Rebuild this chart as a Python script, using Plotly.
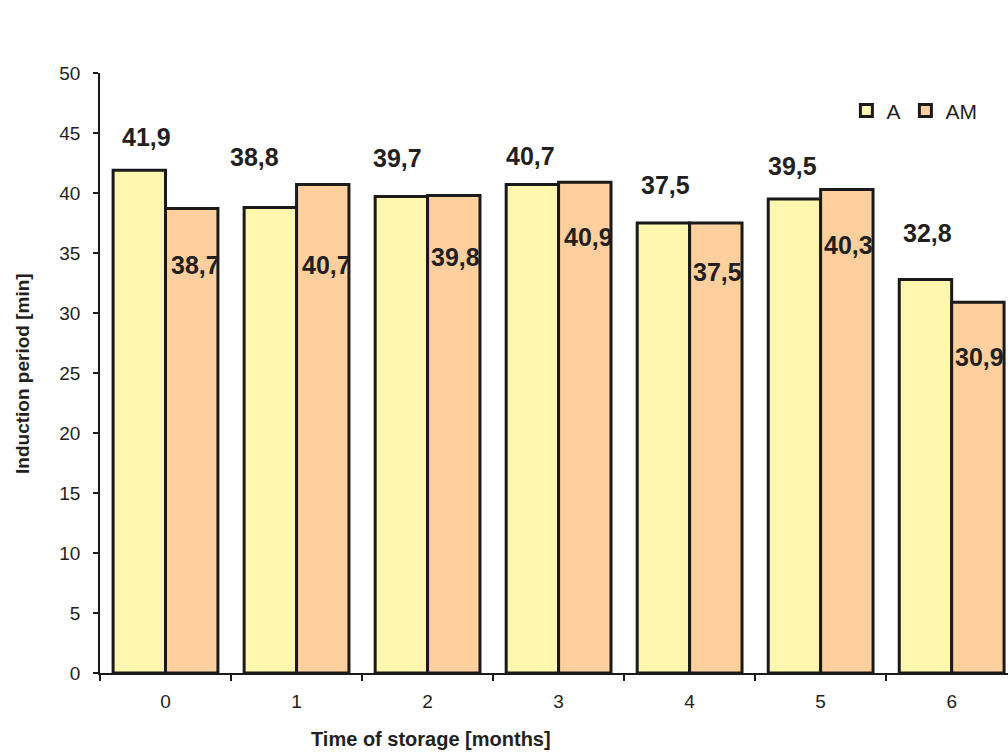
import plotly.graph_objects as go

# ---- data ----
months = [0, 1, 2, 3, 4, 5, 6]
series_a = [41.9, 38.8, 39.7, 40.7, 37.5, 39.5, 32.8]
series_am = [38.7, 40.7, 39.8, 40.9, 37.5, 40.3, 30.9]
y_ticks = [0, 5, 10, 15, 20, 25, 30, 35, 40, 45, 50]

# ---- label placement (pixel shifts, style only) ----
a_dx = [-19, -42, -30, -28, -24, -28, -24]
a_dy = [33, 50, 39, 29, 38, 33, 46]
am_dx = [30, 30, 28, 30, 28, 28, 28]
am_dy = [-56, -80, -62, -55, -49, -56, -55]

col_a = "#FFF7B0"
col_am = "#FFD09E"
txt = "#231F20"
font_family = "Liberation Sans, Arial, sans-serif"

fig = go.Figure()
fig.add_trace(go.Bar(x=months, y=series_a, name="A",
                     marker=dict(color=col_a, line=dict(color="#1a1a1a", width=3))))
fig.add_trace(go.Bar(x=months, y=series_am, name="AM",
                     marker=dict(color=col_am, line=dict(color="#1a1a1a", width=3))))


def fmt(v):
    return f"{v:.1f}".replace(".", ",")


annotations = []
for i, m in enumerate(months):
    annotations.append(dict(x=m, y=series_a[i], xref="x", yref="y", text=fmt(series_a[i]),
                            showarrow=False, xshift=a_dx[i], yshift=a_dy[i],
                            font=dict(size=25, color=txt, family=font_family, weight="bold")))
    annotations.append(dict(x=m, y=series_am[i], xref="x", yref="y", text=fmt(series_am[i]),
                            showarrow=False, xshift=am_dx[i], yshift=am_dy[i],
                            font=dict(size=25, color=txt, family=font_family, weight="bold")))

annotations.append(dict(text="Time of storage [months]", xref="paper", yref="paper",
                        x=0.3645, y=-0.11, showarrow=False, xanchor="center", yanchor="middle",
                        font=dict(size=20, color=txt, family=font_family, weight="bold")))
annotations.append(dict(text="Induction period [min]", xref="paper", yref="paper",
                        x=-0.086, y=0.5, showarrow=False, textangle=-90,
                        xanchor="center", yanchor="middle",
                        font=dict(size=19, color=txt, family=font_family, weight="bold")))

fig.update_layout(
    width=1008, height=752,
    margin=dict(l=100, r=0, t=73, b=79),
    paper_bgcolor="white", plot_bgcolor="white",
    barmode="group", bargap=0.2, bargroupgap=0,
    font=dict(family=font_family, color=txt),
    showlegend=True,
    legend=dict(orientation="h", x=0.822, y=0.937, xanchor="left", yanchor="middle",
                font=dict(size=21, color=txt, family=font_family),
                itemwidth=30, bgcolor="rgba(0,0,0,0)", tracegroupgap=0),
    annotations=annotations,
)

fig.update_xaxes(
    range=[-0.5, 6.43], tickmode="array", tickvals=months, ticktext=[str(m) for m in months],
    ticks="", showgrid=False, zeroline=False,
    showline=True, linecolor="#1a1a1a", linewidth=1.5,
    tickfont=dict(size=19, color=txt), ticklabelstandoff=10,
    minor=dict(tickmode="array", tickvals=[m - 0.5 for m in months] + [6.5],
               ticks="outside", ticklen=6, tickwidth=1.5, tickcolor="#1a1a1a", showgrid=False),
)
fig.update_yaxes(
    range=[0, 50], tickmode="array", tickvals=y_ticks,
    ticks="outside", ticklen=5, tickwidth=1.5, tickcolor="#1a1a1a",
    showgrid=False, zeroline=False,
    showline=True, linecolor="#1a1a1a", linewidth=1.5,
    tickfont=dict(size=19, color=txt), ticklabelstandoff=9,
)

fig.write_html("out.html", config={"displayModeBar": False},
               post_script="document.body.style.margin='0';document.body.style.overflow='hidden';")
